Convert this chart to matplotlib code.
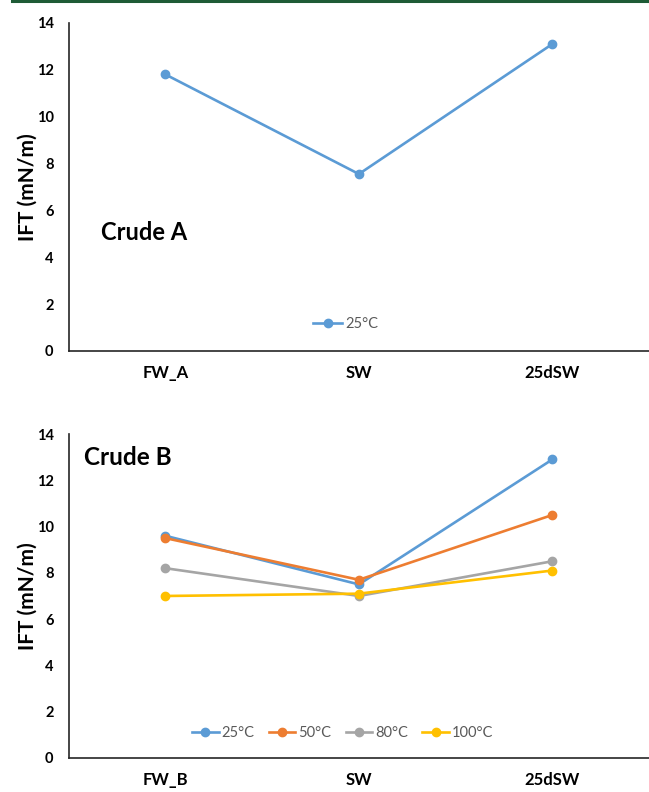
import matplotlib
matplotlib.use("Agg")
import matplotlib.pyplot as plt
from matplotlib.lines import Line2D

plt.rcParams['font.family'] = ['Lato', 'DejaVu Sans']

cats_a = ["FW_A", "SW", "25dSW"]
cats_b = ["FW_B", "SW", "25dSW"]
crude_a_25 = [11.8, 7.55, 13.1]
crude_b_25 = [9.6, 7.5, 12.9]
crude_b_50 = [9.5, 7.7, 10.5]
crude_b_80 = [8.2, 7.0, 8.5]
crude_b_100 = [7.0, 7.1, 8.1]
series_labels = ["25°C", "50°C", "80°C", "100°C"]
colors = ["#5B9BD5", "#ED7D31", "#A5A5A5", "#FFC000"]

fig = plt.figure(figsize=(6.49, 7.92), dpi=100)
fig.add_artist(Line2D([0.018, 1.0], [0.9985, 0.9985], color="#1E5B36", lw=2.2))

ax1 = fig.add_axes([0.106, 0.557, 0.894, 0.414])
ax2 = fig.add_axes([0.106, 0.043, 0.894, 0.409])

def style(ax, cats):
    ax.set_xlim(-0.5, 2.5)
    ax.set_ylim(0, 14)
    ax.set_yticks(range(0, 15, 2))
    ax.set_xticks(range(3))
    ax.set_xticklabels(cats, fontsize=12, fontweight='bold')
    for s in ['top', 'right']:
        ax.spines[s].set_visible(False)
    for s in ['left', 'bottom']:
        ax.spines[s].set_color('#262626')
        ax.spines[s].set_linewidth(1.2)
    ax.tick_params(axis='both', length=0)
    ax.tick_params(axis='y', pad=11, labelsize=10.5)
    ax.tick_params(axis='x', pad=10)
    for t in ax.get_yticklabels():
        t.set_fontweight('bold')
    ax.set_ylabel("IFT (mN/m)", fontsize=15, fontweight='bold', labelpad=-1)

x = range(3)
ax1.plot(x, crude_a_25, color=colors[0], lw=1.9, marker='o', ms=6, label=series_labels[0])
style(ax1, cats_a)
ax1.text(0.055, 0.36, "Crude A", transform=ax1.transAxes, fontsize=17, fontweight='bold', va='center')
ax1.legend(loc='center', bbox_to_anchor=(0.477, 0.082), frameon=False, fontsize=10.5,
           labelcolor='#595959', handlelength=2.0, handletextpad=0.2)

for vals, c, lab in zip([crude_b_25, crude_b_50, crude_b_80, crude_b_100], colors, series_labels):
    ax2.plot(x, vals, color=c, lw=1.9, marker='o', ms=6, label=lab)
style(ax2, cats_b)
ax2.text(0.026, 0.929, "Crude B", transform=ax2.transAxes, fontsize=17.5, fontweight='bold', va='center')
ax2.legend(loc='center', bbox_to_anchor=(0.472, 0.077), frameon=False, fontsize=10.5, ncol=4,
           labelcolor='#595959', handlelength=1.8, handletextpad=0.2, columnspacing=1.0)

fig.savefig("out.png", dpi=100)
